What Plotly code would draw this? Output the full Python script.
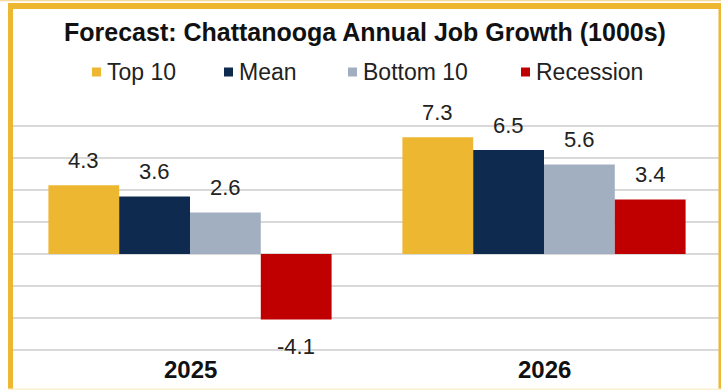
import plotly.graph_objects as go

W, H = 721, 390

categories = ["2025", "2026"]
series_names = ["Top 10", "Mean", "Bottom 10", "Recession"]
top10 = [4.3, 7.3]
mean = [3.6, 6.5]
bottom10 = [2.6, 5.6]
recession = [-4.1, 3.4]
series_values = [top10, mean, bottom10, recession]
colors = ["#EDB732", "#0F2A4F", "#A2AFC1", "#C00000"]
title_text = "Forecast: Chattanooga Annual Job Growth (1000s)"

gold = "#EDB732"
FONT = "Liberation Sans, Arial, sans-serif"

fig = go.Figure()

n = len(series_names)
bar_w = 0.8 / n
cat_idx = list(range(len(categories)))
annotations = []
for j, (name, vals, col) in enumerate(zip(series_names, series_values, colors)):
    off = (j - (n - 1) / 2) * bar_w
    xs = [i + off for i in cat_idx]
    fig.add_trace(go.Bar(
        x=xs, y=vals, width=bar_w, name=name,
        marker=dict(color=col, line=dict(width=0)),
        showlegend=False, hoverinfo="x+y",
    ))
    for x, v in zip(xs, vals):
        annotations.append(dict(
            x=x, y=v, xref="x", yref="y", text=f"{v:.1f}", showarrow=False,
            xanchor="center", yanchor="middle",
            yshift=25 if v >= 0 else -27,
            font=dict(family=FONT, size=22, color="#222222"),
        ))

def px(x):
    return x / W

def py(y):
    return 1 - y / H

# category labels
for i, c in zip(cat_idx, categories):
    annotations.append(dict(
        x=i, y=py(369), xref="x", yref="paper", text=c, showarrow=False,
        xanchor="center", yanchor="middle",
        font=dict(family=FONT, size=24, color="#111111", weight="bold"),
    ))

# title
annotations.append(dict(
    x=px(365), y=py(32), xref="paper", yref="paper", text=title_text,
    showarrow=False, xanchor="center", yanchor="middle",
    font=dict(family=FONT, size=25, color="#111111", weight="bold"),
))

# manual legend
leg_marker_x = [92, 224, 348, 521]
shapes = []
for name, col, mx in zip(series_names, colors, leg_marker_x):
    shapes.append(dict(type="rect", xref="paper", yref="paper",
                       x0=px(mx), x1=px(mx + 9), y0=py(76.5), y1=py(67.5),
                       fillcolor=col, line=dict(width=0), layer="above"))
    annotations.append(dict(
        x=px(mx + 13), y=py(72), xref="paper", yref="paper", text=name,
        showarrow=False, xanchor="left", yanchor="middle",
        font=dict(family=FONT, size=23, color="#222222"),
    ))

# border frame
shapes += [
    dict(type="rect", xref="paper", yref="paper", x0=0, x1=1, y0=py(1.2), y1=1,
         fillcolor="#F6DC9C", line=dict(width=0), layer="above"),
    dict(type="rect", xref="paper", yref="paper", x0=px(8), x1=1, y0=py(9), y1=py(3),
         fillcolor=gold, line=dict(width=0), layer="above"),
    dict(type="rect", xref="paper", yref="paper", x0=px(8), x1=px(13), y0=0, y1=py(3),
         fillcolor=gold, line=dict(width=0), layer="above"),
    dict(type="rect", xref="paper", yref="paper", x0=px(718.5), x1=1, y0=0, y1=py(3),
         fillcolor=gold, line=dict(width=0), layer="above"),
    dict(type="rect", xref="paper", yref="paper", x0=px(8), x1=1, y0=0, y1=py(388.5),
         fillcolor="#FCEFCF", line=dict(width=0), layer="above"),
]

# y range slightly padded so the edge gridlines (-6 and 8) are drawn
y_lo, y_hi = -6.1, 8.1
unit_px = 16.0  # pixels per unit
y_zero_px = 254
fig.update_layout(
    width=W, height=H,
    margin=dict(l=0, r=0, t=0, b=0),
    paper_bgcolor="white", plot_bgcolor="white",
    barmode="overlay",
    xaxis=dict(
        domain=[px(13), 1.0], range=[-0.5, 1.5],
        tickvals=cat_idx, showticklabels=False,
        showgrid=False, zeroline=False, showline=False, ticks="",
    ),
    yaxis=dict(
        domain=[py(y_zero_px - y_lo * unit_px), py(y_zero_px - y_hi * unit_px)],
        range=[y_lo, y_hi], dtick=2, tick0=0,
        showticklabels=False, showgrid=True, gridcolor="#D9D9D9", gridwidth=1.5,
        zeroline=True, zerolinecolor="#D9D9D9", zerolinewidth=1.5, showline=False,
    ),
    annotations=annotations,
    shapes=shapes,
    showlegend=False,
)

fig.write_html("out.html")
